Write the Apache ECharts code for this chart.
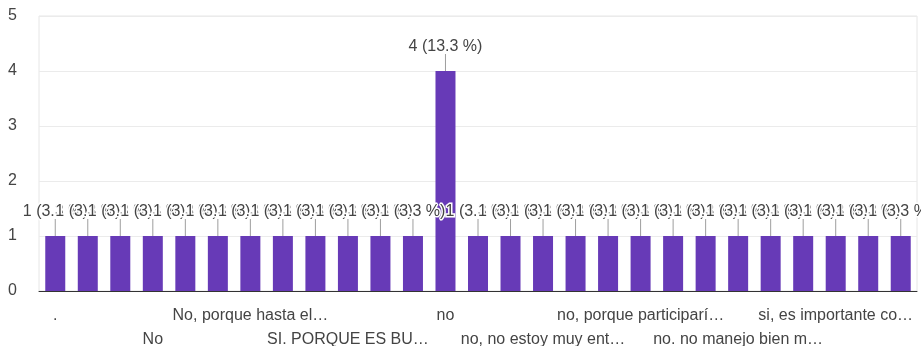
<!DOCTYPE html>
<html>
<head>
<meta charset="utf-8">
<script src="https://cdn.jsdelivr.net/npm/echarts@6/dist/echarts.min.js"></script>
<style>html,body{margin:0;padding:0;background:#fff}#c{width:921px;height:346px}</style>
</head>
<body>
<div id="c"></div>
<script>
const categories = [
  ".", "Es una buena idea", "Me parece bien", "No", "No lo creo", "No me interesa",
  "No, porque hasta el…", "Puede ser", "Quizás", "SI. PORQUE ES BU…", "Si", "Tal vez",
  "no", "no lo sé", "no me gusta", "no, no estoy muy ent…", "no, no tengo tiempo", "no, porque no tengo…",
  "no, porque participarí…", "no, prefiero…", "no, tengo otras…", "no. no manejo bien m…", "si", "si claro",
  "si, es importante co…", "si, me gustaría", "sí"
];
const counts = [1,1,1,1,1,1,1,1,1,1,1,1,4,1,1,1,1,1,1,1,1,1,1,1,1,1,1];
const yTicks = [0,1,2,3,4,5];
const total = counts.reduce((a,b)=>a+b,0);

const chart = echarts.init(document.getElementById('c'), null, {renderer:'canvas'});
const font = '"Liberation Sans", Arial, sans-serif';
const labelBase = {hideOverlap:false, showMinLabel:true, showMaxLabel:true,
  fontFamily:font, fontSize:16, color:'#444', lineHeight:24};
chart.setOption({
  animation:false,
  grid:{left:39,right:4,top:16,bottom:55,show:true,borderColor:'#e6e6e6',borderWidth:1,
        containLabel:false, outerBoundsMode:'none'},
  xAxis:[{
    type:'category', data:categories, position:'bottom',
    axisLine:{lineStyle:{color:'#333',width:1}},
    axisTick:{show:false},
    axisLabel:Object.assign({}, labelBase, {interval:(i)=> i%6===0, margin:13})
  },{
    type:'category', data:categories, position:'bottom',
    axisLine:{show:false}, axisTick:{show:false}, splitLine:{show:false},
    axisLabel:Object.assign({}, labelBase, {interval:(i)=> i%6===3, margin:37})
  }],
  yAxis:{
    type:'value', min:yTicks[0], max:yTicks[yTicks.length-1], interval:1,
    axisLine:{show:false}, axisTick:{show:false},
    splitLine:{lineStyle:{color:'#ebebeb'}},
    axisLabel:{fontFamily:font, fontSize:16, color:'#444', margin:22}
  },
  series:[
    {
      type:'custom', z:1, xAxisIndex:0,
      data: counts.map((v,i)=>[i,v]),
      renderItem:(params, api)=>{
        const p = api.coord([api.value(0), api.value(1)]);
        return {type:'line', shape:{x1:p[0],y1:p[1],x2:p[0],y2:p[1]-17}, style:{stroke:'#9e9e9e',lineWidth:1}};
      }
    },
    {
      type:'bar', data:counts, barWidth:20, z:2, xAxisIndex:0,
      itemStyle:{color:'#673ab7'},
      label:{
        show:true, position:'top', distance:16, fontFamily:font, fontSize:16, color:'#444',
        textBorderColor:'#fff', textBorderWidth:3,
        formatter:p=> p.value + ' (' + (p.value/total*100).toFixed(1) + ' %)'
      }
    }
  ]
});
</script>
</body>
</html>
